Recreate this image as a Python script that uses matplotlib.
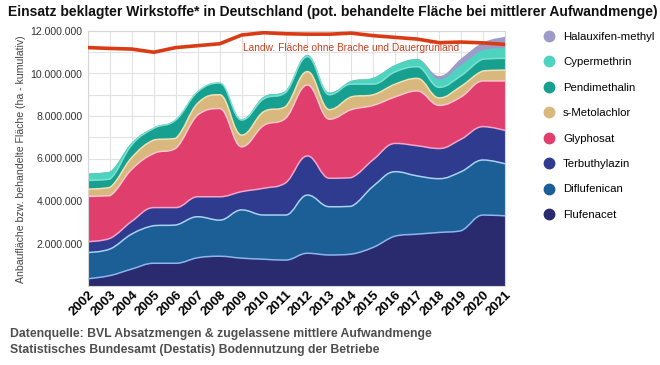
import numpy as np
import matplotlib.pyplot as plt
from matplotlib.path import Path
from matplotlib.patches import PathPatch
from matplotlib.lines import Line2D
from matplotlib.ticker import FuncFormatter, MultipleLocator

# values in million ha (each substance on its own, stacked in the plot)
years = list(range(2002, 2022))
flufenacet = [0.34, 0.49, 0.80, 1.07, 1.07, 1.33, 1.40, 1.31, 1.26, 1.22, 1.54, 1.46, 1.50, 1.82, 2.35, 2.44, 2.52, 2.60, 3.34, 3.30]
diflufenican = [1.24, 1.25, 1.65, 1.77, 1.80, 1.93, 1.70, 2.27, 2.08, 2.12, 2.74, 2.27, 2.25, 2.88, 3.03, 2.74, 2.53, 2.78, 2.59, 2.45]
terbuthylazin = [0.51, 0.50, 0.60, 0.85, 0.82, 0.94, 1.10, 0.86, 1.26, 1.51, 1.84, 1.34, 1.35, 1.25, 1.33, 1.42, 1.42, 1.53, 1.57, 1.57]
glyphosat = [2.13, 2.01, 2.45, 2.55, 2.79, 3.85, 4.15, 2.11, 2.95, 3.04, 3.34, 2.78, 3.20, 2.55, 2.19, 2.58, 2.03, 1.99, 2.15, 2.33]
s_metolachlor = [0.34, 0.39, 0.55, 0.63, 0.47, 0.55, 0.65, 0.55, 0.65, 0.55, 0.63, 0.45, 0.60, 0.50, 0.60, 0.59, 0.35, 0.50, 0.47, 0.51]
pendimethalin = [0.41, 0.39, 0.60, 0.55, 0.86, 0.54, 0.55, 0.71, 0.60, 0.66, 0.70, 0.70, 0.60, 0.50, 0.58, 0.55, 0.50, 0.50, 0.56, 0.55]
cypermethrin = [0.33, 0.35, 0.10, 0.04, 0.03, 0.02, 0.02, 0.04, 0.10, 0.08, 0.08, 0.10, 0.15, 0.30, 0.32, 0.36, 0.37, 0.50, 0.42, 0.49]
halauxifen = [0, 0, 0, 0, 0, 0, 0, 0, 0, 0, 0, 0, 0, 0, 0, 0, 0.16, 0.30, 0.36, 0.52]
landw_flaeche = [11.22, 11.18, 11.15, 11.00, 11.22, 11.31, 11.40, 11.81, 11.92, 11.87, 11.85, 11.85, 11.90, 11.78, 11.70, 11.62, 11.45, 11.48, 11.44, 11.37]

names = ['Flufenacet', 'Diflufenican', 'Terbuthylazin', 'Glyphosat', 's-Metolachlor',
         'Pendimethalin', 'Cypermethrin', 'Halauxifen-methyl']
series = [flufenacet, diflufenican, terbuthylazin, glyphosat, s_metolachlor,
          pendimethalin, cypermethrin, halauxifen]
colors = ['#2a2a6e', '#1b5f96', '#2e3b8e', '#e03e6c', '#d8b87c', '#17a08f', '#4ed3bf', '#9d9cc9']
edge_colors = ['#8cb6ee', '#a9d2f2', '#f2a6cc', '#f6c7cf', '#f0e2b8', '#7fe0d2', '#a8f2e6', '#c6c6e6']


def spline_path(x, y, base=None):
    # smooth curve through the points (cubic bezier, flat at local extremes)
    n = len(x)
    m = np.zeros(n)
    for i in range(1, n - 1):
        if (y[i] - y[i - 1]) * (y[i + 1] - y[i]) > 0:
            m[i] = (y[i + 1] - y[i - 1]) / (x[i + 1] - x[i - 1])
    verts = [(x[0], y[0])]
    codes = [Path.MOVETO]
    for i in range(n - 1):
        dx = x[i + 1] - x[i]
        lo, hi = min(y[i], y[i + 1]), max(y[i], y[i + 1])
        c1 = (x[i] + 0.4 * dx, np.clip(y[i] + m[i] * 0.4 * dx, lo, hi)) if i > 0 else (x[i], y[i])
        c2 = (x[i + 1] - 0.4 * dx, np.clip(y[i + 1] - m[i + 1] * 0.4 * dx, lo, hi)) if i + 1 < n - 1 else (x[i + 1], y[i + 1])
        verts += [c1, c2, (x[i + 1], y[i + 1])]
        codes += [Path.CURVE4] * 3
    if base is not None:
        verts += [(x[-1], base), (x[0], base), (x[0], y[0])]
        codes += [Path.LINETO, Path.LINETO, Path.CLOSEPOLY]
    return Path(verts, codes)


plt.rcParams['font.family'] = ['Liberation Sans', 'DejaVu Sans']

fig = plt.figure(figsize=(6.6, 3.65), dpi=100)
ax = fig.add_axes([88 / 660, 1 - 286 / 365, (505 - 88) / 660, (286 - 31) / 365])

x = np.arange(len(years), dtype=float)
tops = np.cumsum(np.array(series) * 1e6, axis=0)

# draw from the top band down, each filled to the baseline
for k in range(len(series) - 1, -1, -1):
    ax.add_patch(PathPatch(spline_path(x, tops[k], base=0), facecolor=colors[k], edgecolor='none', zorder=2))
for k in range(len(series)):
    if k == len(series) - 1 or k == 6:
        continue
    ax.add_patch(PathPatch(spline_path(x, tops[k]), facecolor='none', edgecolor=edge_colors[k], lw=1.1, zorder=3))

ax.plot(x, np.array(landw_flaeche) * 1e6, color='#d93c14', lw=2.6, zorder=4, solid_joinstyle='round')
ax.text(x[7] + 0.05, 11.42e6, 'Landw. Fläche ohne Brache und Dauergrünland', color='#c8401e',
        fontsize=7.3, va='top', ha='left', zorder=5)

ax.set_xlim(0, len(years) - 1)
ax.set_ylim(0, 12e6)
ax.set_xticks(x)
ax.set_xticklabels([str(y) for y in years], rotation=45, ha='right', va='top',
                   rotation_mode='anchor', fontsize=9.5, fontweight='bold')
ax.yaxis.set_major_locator(MultipleLocator(2e6))
ax.yaxis.set_minor_locator(MultipleLocator(1e6))
ax.yaxis.set_major_formatter(FuncFormatter(lambda v, _: '' if v == 0 else f'{int(v):,}'.replace(',', '.')))
ax.tick_params(axis='y', labelsize=7.6, length=0, pad=4, colors='#333333', which='both')
ax.tick_params(axis='x', length=0, pad=2)
ax.grid(True, which='both', color='#e2e2e2', lw=0.8, zorder=0)
ax.set_axisbelow(True)
for s in ax.spines.values():
    s.set_color('#d6d6d6')
    s.set_linewidth(0.8)

fig.text(21 / 660, 1 - 159 / 365, 'Anbaufläche bzw. behandelte Fläche (ha - kumulativ)', rotation=90,
         ha='center', va='center', fontsize=7.6, color='#444444')

fig.text(8 / 660, 1 - 12 / 365,
         'Einsatz beklagter Wirkstoffe* in Deutschland (pot. behandelte Fläche bei mittlerer Aufwandmenge)',
         fontweight='bold', fontsize=10.0, ha='left', va='center', color='#111111')

fig.text(10 / 660, 1 - 334 / 365, 'Datenquelle: BVL Absatzmengen & zugelassene mittlere Aufwandmenge',
         fontsize=8.8, fontweight='bold', color='#4d4d4d', ha='left', va='center')
fig.text(10 / 660, 1 - 350 / 365, 'Statistisches Bundesamt (Destatis) Bodennutzung der Betriebe',
         fontsize=8.8, fontweight='bold', color='#4d4d4d', ha='left', va='center')

handles = [Line2D([], [], marker='o', ls='none', markersize=7.5, markerfacecolor=colors[k],
                  markeredgecolor=colors[k]) for k in range(len(series) - 1, -1, -1)]
labels = [names[k] for k in range(len(series) - 1, -1, -1)]
fig.legend(handles, labels, loc='upper left', bbox_to_anchor=(539 / 660, 1 - 27 / 365), frameon=False,
           fontsize=8.2, labelspacing=1.36, handlelength=1.0, handletextpad=0.7, borderaxespad=0)

fig.savefig('out.png', dpi=100)
